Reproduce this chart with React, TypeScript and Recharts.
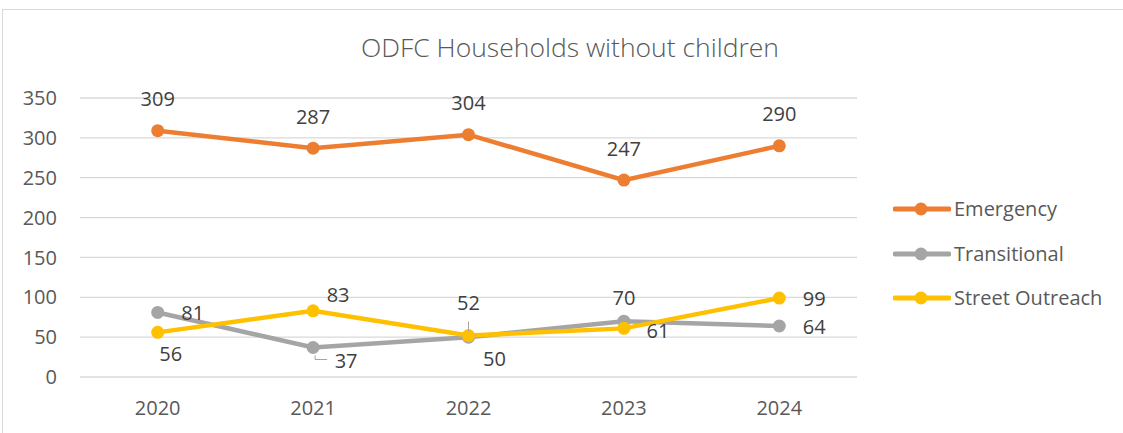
import React from 'react';
import { LineChart, Line, XAxis, YAxis, CartesianGrid, LabelList } from 'recharts';

const years = ['2020', '2021', '2022', '2023', '2024'];
const emergency = [309, 287, 304, 247, 290];
const transitional = [81, 37, 50, 70, 64];
const streetOutreach = [56, 83, 52, 61, 99];
const yTicks = [0, 50, 100, 150, 200, 250, 300, 350];

const COLORS = { emergency: '#ED7D31', transitional: '#A5A5A5', street: '#FFC000' };
const FONT = '"Open Sans", sans-serif';
const TEXT = '#595959';

// label offsets from the point centre, per point (Excel placed them by hand)
const emergencyOffsets = [[0, -32], [0, -32], [0, -32], [0, -32], [0, -32]];
const transitionalOffsets = [[35, 0], [33, 13], [26, 21], [0, -24], [35, 1]];
const streetOffsets = [[13, 21], [25, -16], [0, -33], [34, 2], [35, 0]];

const data = years.map((year, i) => ({
  year,
  emergency: emergency[i],
  transitional: transitional[i],
  street: streetOutreach[i],
}));

const series = [
  { key: 'emergency', name: 'Emergency', color: COLORS.emergency },
  { key: 'transitional', name: 'Transitional', color: COLORS.transitional },
  { key: 'street', name: 'Street Outreach', color: COLORS.street },
];

const makeLabel = (offsets: number[][], leader?: (i: number) => string | null) => (props: any) => {
  const { x, y, value, index } = props;
  const [dx, dy] = offsets[index] || [0, -30];
  const path = leader ? leader(index) : null;
  return (
    <g>
      {path && (
        <path d={path} transform={`translate(${x},${y})`} stroke="#A5A5A5" strokeWidth={1} fill="none" />
      )}
      <text
        x={x + dx}
        y={y + dy}
        textAnchor="middle"
        dominantBaseline="central"
        fill="#404040"
        fontSize={20}
        fontFamily={FONT}
      >
        {value}
      </text>
    </g>
  );
};

const transitionalLeader = (i: number) => (i === 1 ? 'M2,8 L2,12 L14,12' : null);
const streetLeader = (i: number) => (i === 2 ? 'M0,-14 L0,-4' : null);

const ChartLegend = () => (
  <div style={{ position: 'absolute', left: 893, top: 187, fontFamily: FONT, fontSize: 20, color: TEXT }}>
    {series.map(s => (
      <div key={s.key} style={{ display: 'flex', alignItems: 'center', height: 44.5 }}>
        <svg width={58} height={16} style={{ marginRight: 3 }}>
          <line x1={2} y1={8} x2={56} y2={8} stroke={s.color} strokeWidth={5} strokeLinecap="round" />
          <circle cx={28} cy={8} r={6.5} fill={s.color} />
        </svg>
        <span style={{ lineHeight: '20px' }}>{s.name}</span>
      </div>
    ))}
  </div>
);

const App = () => {
  return (
    <div style={{ position: 'absolute', left: 0, top: 0, width: 1123, height: 433, background: '#fff', overflow: 'hidden' }}>
      <div
        style={{
          position: 'absolute',
          left: 2,
          top: 9,
          width: 1140,
          height: 440,
          border: '1px solid #D9D9D9',
        }}
      />
      <div
        style={{
          position: 'absolute',
          left: 0,
          width: 1140,
          top: 29,
          textAlign: 'center',
          fontFamily: FONT,
          fontWeight: 300,
          fontSize: 26.5,
          color: TEXT,
          lineHeight: '36px',
        }}
      >
        ODFC Households without children
      </div>
      <LineChart
        width={1123}
        height={433}
        data={data}
        margin={{ top: 98, right: 266, bottom: 26, left: 0 }}
        style={{ position: 'absolute', left: 0, top: 0 }}
      >
        <CartesianGrid vertical={false} stroke="#D9D9D9" strokeWidth={1.3} />
        <XAxis
          dataKey="year"
          height={30}
          axisLine={false}
          tickLine={false}
          tickSize={0}
          tickMargin={24}
          padding={{ left: 77.7, right: 77.7 }}
          tick={{ fill: TEXT, fontSize: 20, fontFamily: FONT }}
        />
        <YAxis
          width={80}
          domain={[0, 350]}
          ticks={yTicks}
          interval={0}
          axisLine={false}
          tickLine={false}
          tickSize={0}
          tickMargin={23}
          tick={{ fill: TEXT, fontSize: 20, fontFamily: FONT }}
        />
        <Line
          dataKey="emergency"
          name="Emergency"
          stroke={COLORS.emergency}
          strokeWidth={4.5}
          dot={{ r: 6.5, fill: COLORS.emergency, stroke: COLORS.emergency, strokeWidth: 0 }}
          activeDot={false}
          isAnimationActive={false}
        >
          <LabelList dataKey="emergency" content={makeLabel(emergencyOffsets)} />
        </Line>
        <Line
          dataKey="transitional"
          name="Transitional"
          stroke={COLORS.transitional}
          strokeWidth={4.5}
          dot={{ r: 6.5, fill: COLORS.transitional, stroke: COLORS.transitional, strokeWidth: 0 }}
          activeDot={false}
          isAnimationActive={false}
        >
          <LabelList dataKey="transitional" content={makeLabel(transitionalOffsets, transitionalLeader)} />
        </Line>
        <Line
          dataKey="street"
          name="Street Outreach"
          stroke={COLORS.street}
          strokeWidth={4.5}
          dot={{ r: 6.5, fill: COLORS.street, stroke: COLORS.street, strokeWidth: 0 }}
          activeDot={false}
          isAnimationActive={false}
        >
          <LabelList dataKey="street" content={makeLabel(streetOffsets, streetLeader)} />
        </Line>
      </LineChart>
      <ChartLegend />
    </div>
  );
};

export default App;
